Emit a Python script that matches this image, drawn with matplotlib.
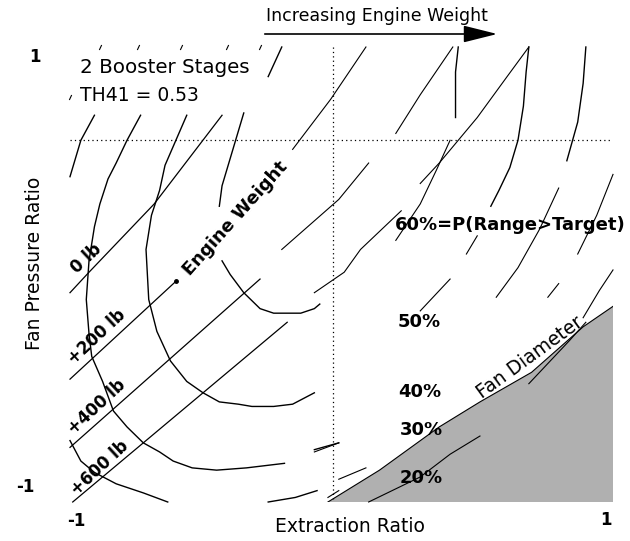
import numpy as np
import matplotlib
matplotlib.use("Agg")
import matplotlib.pyplot as plt

nan = np.nan

# ---- engine weight lines (diagonal, labelled) ----
w0_x   = [-1.0, -0.93, -0.69, -0.44]
w0_y   = [-0.08, 0.01, 0.31, 0.70]
w200_x = [-1.0, -0.61]
w200_y = [-0.46, -0.03]
w400_x = [-1.0, -0.30]
w400_y = [-0.76, -0.02]
w600_x = [-0.99, -0.20]
w600_y = [-1.0, -0.21]
weight_labels = ["0 lb", "+200 lb", "+400 lb", "+600 lb"]
weight_label_x = [-0.94, -0.90, -0.90, -0.89]
weight_label_y = [0.07, -0.275, -0.58, -0.85]

# ---- arcs ----
a1_x = [-0.36, -0.40, -0.44, -0.45, nan, -0.44, -0.41, -0.36, -0.30, -0.25, -0.20, -0.15, -0.10, -0.08]
a1_y = [0.71, 0.55, 0.39, 0.30, nan, 0.06, 0.0, -0.08, -0.15, -0.17, -0.17, -0.17, -0.15, -0.13]
a2_x = [-0.57, -0.61, -0.65, -0.67, -0.70, -0.72, -0.71, -0.68, -0.63, -0.57, -0.51, -0.45,
        -0.38, -0.33, -0.25, -0.18, -0.10]
a2_y = [0.70, 0.59, 0.48, 0.37, 0.26, 0.11, -0.11, -0.25, -0.38, -0.47, -0.52, -0.56,
        -0.57, -0.58, -0.58, -0.57, -0.52]
a3_x = [-0.74, -0.79, -0.83, -0.86, -0.89, -0.91, -0.93, -0.94, -0.93, -0.92, -0.88, -0.84,
        -0.79, -0.73, -0.67, -0.62, -0.55, -0.46, -0.35, -0.21, nan, -0.10, -0.01]
a3_y = [0.70, 0.59, 0.49, 0.42, 0.31, 0.21, 0.06, -0.11, -0.26, -0.36, -0.47, -0.60,
        -0.67, -0.74, -0.78, -0.82, -0.85, -0.86, -0.85, -0.83, nan, -0.77, -0.74]
a4_x = [-0.91, -0.96, -1.0, nan, -1.0, -0.96, -0.91, -0.83, -0.73, -0.64]
a4_y = [0.70, 0.59, 0.43, nan, -0.73, -0.82, -0.87, -0.92, -0.96, -1.0]
a5_x = [-0.27, -0.17, -0.09]
a5_y = [-1.0, -0.98, -0.95]

# near vertical curves top right
t1_x = [0.43, 0.42, 0.42]
t1_y = [1.0, 0.89, 0.69]
t2_x = [0.69, 0.68, 0.67, 0.65, 0.62, 0.58, 0.55]
t2_y = [1.0, 0.89, 0.74, 0.59, 0.47, 0.37, 0.30]
t3_x = [0.90, 0.89, 0.87, 0.83]
t3_y = [1.0, 0.84, 0.67, 0.50]
t4_x = [-0.22, -0.27]
t4_y = [1.0, 0.87]

# small ticks along top
tick_x = [-0.89, -0.75, -0.59, -0.42, -0.30, -1.0]
tick_y = [1.0, 1.0, 1.0, 1.0, 1.0, 0.78]

# ---- P(Range>Target) contour pieces ----
range_x = [
    [-0.18, -0.04, 0.09],
    [0.20, 0.29, 0.41],
    [0.29, 0.36, 0.50, 0.61, 0.69],
    [0.20, 0.29, 0.35, 0.40],
    [-0.22, -0.01, 0.10],
    [-0.10, 0.01, 0.07, 0.22],
    [0.46, 0.50],
    [0.57, 0.65, 0.73, 0.80],
    [0.87, 0.94, 1.0],
    [0.89, 0.95, 1.0],
    [0.29, 0.40],
    [0.76, 0.80],
    [0.69, 0.84, 0.90],
    [0.10, 0.29, 0.40, 0.51],
    [-0.01, 0.09],
    [-0.10, -0.01],
    [-0.05, -0.01],
]
range_y = [
    [0.55, 0.77, 1.0],
    [0.62, 0.79, 1.0],
    [0.40, 0.49, 0.69, 0.87, 1.0],
    [0.15, 0.31, 0.46, 0.59],
    [0.11, 0.33, 0.49],
    [-0.08, 0.01, 0.11, 0.28],
    [0.09, 0.17],
    [-0.10, 0.03, 0.20, 0.38],
    [0.09, 0.26, 0.44],
    [-0.19, -0.07, 0.02],
    [-0.16, -0.02],
    [-0.10, -0.04],
    [-0.48, -0.29, -0.21],
    [-1.0, -0.89, -0.79, -0.71],
    [-0.90, -0.85],
    [-0.78, -0.74],
    [-0.98, -0.95],
]
pct_labels = ["60%=P(Range>Target)", "50%", "40%", "30%", "20%"]
pct_x = [0.197, 0.208, 0.208, 0.215, 0.215]
pct_y = [0.218, -0.209, -0.516, -0.684, -0.895]

# ---- fan diameter limit ----
fan_x = [-0.05, 0.14, 0.36, 0.51, 0.70, 0.89, 1.0]
fan_y = [-1.0, -0.86, -0.67, -0.56, -0.43, -0.23, -0.14]

ref_x = -0.03
ref_y = 0.59

W, H = 630, 541
fig = plt.figure(figsize=(W / 100, H / 100), dpi=100)
ax = fig.add_axes([70 / W, 1 - 502 / H, 543 / W, 455 / H])
ax.set_xlim(-1, 1)
ax.set_ylim(-1, 1)
ax.axis("off")

# shaded region
ax.fill_between(fan_x, fan_y, -1, facecolor="#b0b0b0", edgecolor="none", zorder=1)
ax.plot(fan_x, fan_y, color="black", lw=0.8, zorder=2)

# dotted reference lines
ax.plot([ref_x, ref_x], [1, -0.99], color="black", ls=(0, (1, 2.5)), lw=0.9)
ax.plot([-1, 1], [ref_y, ref_y], color="black", ls=(0, (1, 2.5)), lw=0.9)

for xs, ys in [(w0_x, w0_y), (w200_x, w200_y), (w400_x, w400_y), (w600_x, w600_y)]:
    ax.plot(xs, ys, color="black", lw=0.9, clip_on=False)
ax.plot(w200_x[-1], w200_y[-1], "o", color="black", ms=2.5)

for xs, ys in [(a1_x, a1_y), (a2_x, a2_y), (a3_x, a3_y), (a4_x, a4_y), (a5_x, a5_y),
               (t1_x, t1_y), (t2_x, t2_y), (t3_x, t3_y), (t4_x, t4_y)]:
    ax.plot(xs, ys, color="black", lw=1.0, clip_on=False)

for xs, ys in zip(range_x, range_y):
    ax.plot(xs, ys, color="black", lw=0.8, clip_on=False)

ax.plot(tick_x, tick_y, ls="none", marker=(2, 0, -25), ms=4, mec="black", mew=0.8, clip_on=False)

# labels inside the plot
for lab, x, y in zip(weight_labels, weight_label_x, weight_label_y):
    ax.text(x, y, lab, rotation=43, ha="center", va="center", fontsize=12, fontweight="bold")
ax.text(-0.392, 0.248, "Engine Weight", rotation=48, ha="center", va="center",
        fontsize=13, fontweight="bold")
ax.text(0.694, -0.363, "Fan Diameter", rotation=36, ha="center", va="center", fontsize=13.5)
for lab, x, y in zip(pct_labels, pct_x, pct_y):
    ax.text(x, y, lab, ha="left", va="center", fontsize=13, fontweight="bold")
ax.text(-0.963, 0.908, "2 Booster Stages", ha="left", va="center", fontsize=14.3)
ax.text(-0.963, 0.789, "TH41 = 0.53", ha="left", va="center", fontsize=13.5)

# outside text
fig.text(377 / W, 1 - 16 / H, "Increasing Engine Weight", ha="center", va="center", fontsize=12.5)
ax.annotate("", xy=(500 / W, 1 - 34 / H), xytext=(262 / W, 1 - 34 / H),
            xycoords="figure fraction", textcoords="figure fraction",
            arrowprops=dict(arrowstyle="-|>,head_length=1.4,head_width=0.35",
                            color="black", lw=1.2, mutation_scale=15))
fig.text(350 / W, 1 - 527 / H, "Extraction Ratio", ha="center", va="center", fontsize=13.5)
fig.text(35 / W, 1 - 263 / H, "Fan Pressure Ratio", rotation=90, ha="center", va="center", fontsize=13.5)
fig.text(35 / W, 1 - 57 / H, "1", ha="center", va="center", fontsize=12, fontweight="bold")
fig.text(25 / W, 1 - 487 / H, "-1", ha="center", va="center", fontsize=12, fontweight="bold")
fig.text(76 / W, 1 - 521 / H, "-1", ha="center", va="center", fontsize=12, fontweight="bold")
fig.text(606 / W, 1 - 520 / H, "1", ha="center", va="center", fontsize=12, fontweight="bold")

plt.savefig("out.png", dpi=100)
